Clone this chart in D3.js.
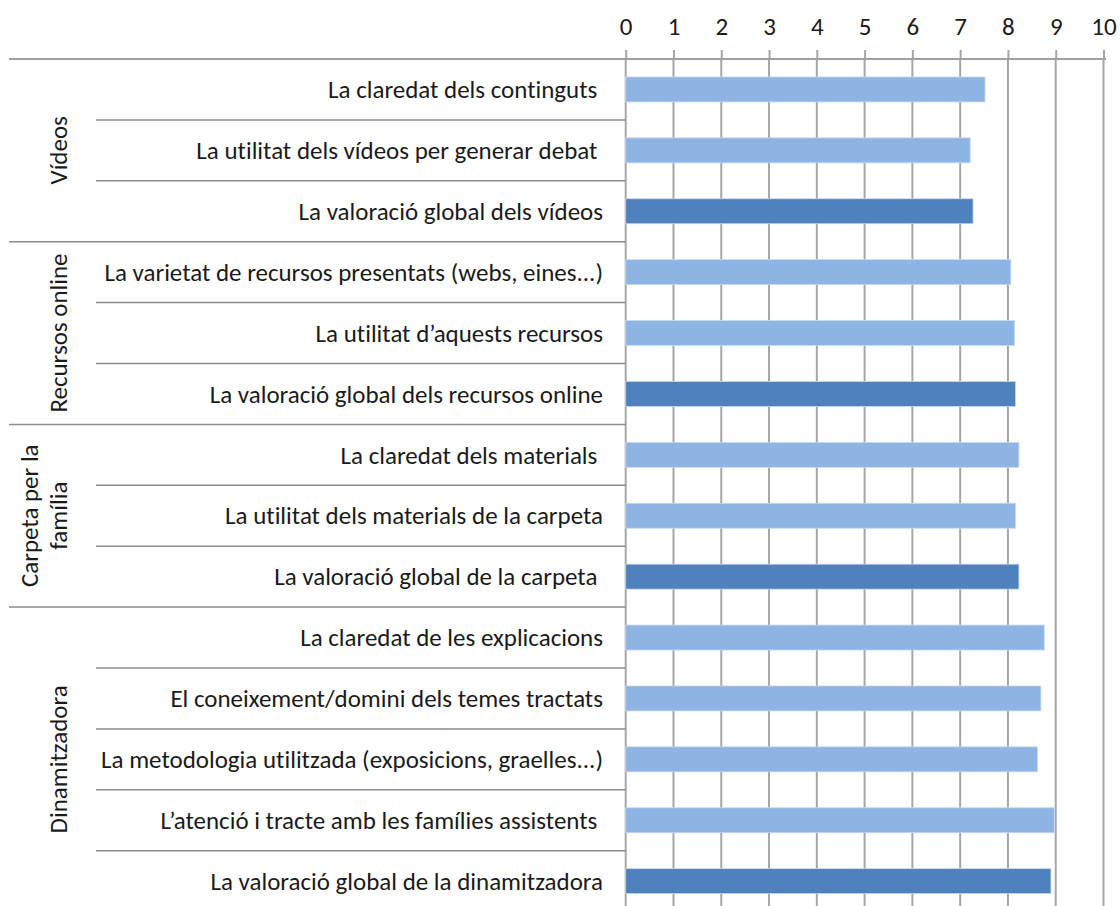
<!DOCTYPE html>
<html>
<head>
<meta charset="utf-8">
<script src="https://cdn.jsdelivr.net/npm/d3@7"></script>
<style>
  body { margin: 0; background: #fff; }
  text { font-family: Carlito, Calibri, "Open Sans", sans-serif; fill: #1a1a1a; white-space: pre;
         font-variant-ligatures: none; font-feature-settings: "liga" 0, "clig" 0; }
</style>
</head>
<body>
<script>
// categories (top to bottom) and their group
var items = [
  "La claredat dels continguts ",
  "La utilitat dels vídeos per generar debat ",
  "La valoració global dels vídeos",
  "La varietat de recursos presentats (webs, eines...)",
  "La utilitat d’aquests recursos",
  "La valoració global dels recursos online",
  "La claredat dels materials ",
  "La utilitat dels materials de la carpeta",
  "La valoració global de la carpeta ",
  "La claredat de les explicacions",
  "El coneixement/domini dels temes tractats",
  "La metodologia utilitzada (exposicions, graelles...)",
  "L’atenció i tracte amb les famílies assistents ",
  "La valoració global de la dinamitzadora"
];
var values = [7.52, 7.21, 7.27, 8.06, 8.14, 8.16, 8.23, 8.16, 8.23, 8.76, 8.69, 8.62, 8.97, 8.90];
var groups = [["Vídeos"], ["Recursos online"], ["Carpeta per la", "família"], ["Dinamitzadora"]];
var groupSizes = [3, 3, 3, 5];
var ticks = [0, 1, 2, 3, 4, 5, 6, 7, 8, 9, 10];

var width = 1120, height = 906;
var plotTop = 59, rowH = 60.9;

var svg = d3.select("body").append("svg")
    .attr("width", width)
    .attr("height", height);

// pick a font size so the longest label is about as wide as in the original
var probe = svg.append("text").style("font-size", "20px").text(items[11]);
var fs = 20 * 502 / probe.node().getComputedTextLength();
probe.remove();
fs = Math.min(fs, 26);

var x = d3.scaleLinear().domain([0, 10]).range([625.7, 1103.5]);
var y = d3.scaleBand()
    .domain(d3.range(items.length))
    .range([plotTop, plotTop + rowH * items.length])
    .paddingInner(0.59)
    .paddingOuter(0.295);

// vertical gridlines
svg.append("g").selectAll("line")
    .data(ticks)
  .enter().append("line")
    .attr("x1", function(d) { return x(d); })
    .attr("x2", function(d) { return x(d); })
    .attr("y1", plotTop)
    .attr("y2", height)
    .style("stroke", "#a6a6a6")
    .style("stroke-width", 2);

// top axis
var xAxis = svg.append("g")
    .attr("transform", "translate(0," + plotTop + ")")
    .call(d3.axisTop(x).tickValues(ticks).tickSize(9).tickPadding(15).tickFormat(d3.format("d")));
xAxis.select(".domain").remove();
xAxis.attr("font-family", null).attr("font-size", null);
xAxis.selectAll(".tick line").style("stroke", "#a6a6a6").style("stroke-width", 2);
xAxis.selectAll(".tick text").style("font-size", fs + "px").style("fill", "#1a1a1a");

svg.append("line")
    .attr("x1", 9).attr("x2", 1106)
    .attr("y1", plotTop).attr("y2", plotTop)
    .style("stroke", "#a0a0a0").style("stroke-width", 2);

// bars
svg.append("g").selectAll("rect")
    .data(values)
  .enter().append("rect")
    .attr("x", x(0))
    .attr("y", function(d, i) { return y(i); })
    .attr("width", function(d) { return x(d) - x(0); })
    .attr("height", y.bandwidth())
    .style("fill", function(d, i) { return items[i].indexOf("valoració global") >= 0 ? "#4f81bd" : "#8eb4e3"; })
    .style("stroke", "#c6d9f1")
    .style("stroke-width", 0.8);

// category labels
svg.append("g").selectAll("text")
    .data(items)
  .enter().append("text")
    .attr("x", 603)
    .attr("y", function(d, i) { return plotTop + rowH * (i + 0.5); })
    .attr("dy", "0.35em")
    .attr("text-anchor", "end")
    .style("font-size", fs + "px")
    .text(function(d) { return d; });

// row separators and group labels
var start = 0;
groups.forEach(function(g, gi) {
  var n = groupSizes[gi];
  for (var k = 1; k < n; k++) {
    svg.append("line")
        .attr("x1", 96).attr("x2", x(0))
        .attr("y1", plotTop + rowH * (start + k)).attr("y2", plotTop + rowH * (start + k))
        .style("stroke", "#8c8c8c").style("stroke-width", 1.5);
  }
  var yEnd = plotTop + rowH * (start + n);
  svg.append("line")
      .attr("x1", 9).attr("x2", x(0))
      .attr("y1", yEnd).attr("y2", yEnd)
      .style("stroke", "#8c8c8c").style("stroke-width", 1.5);

  var cy = plotTop + rowH * (start + n / 2);
  var lbl = svg.append("text")
      .attr("transform", "translate(" + 58 + "," + cy + ") rotate(-90)")
      .attr("text-anchor", "middle")
      .style("font-size", fs + "px");
  g.forEach(function(line, li) {
    lbl.append("tspan")
        .attr("x", 0)
        .attr("y", (li - (g.length - 1)) * 29)
        .attr("dy", "0.35em")
        .text(line);
  });
  start += n;
});
</script>
</body>
</html>
